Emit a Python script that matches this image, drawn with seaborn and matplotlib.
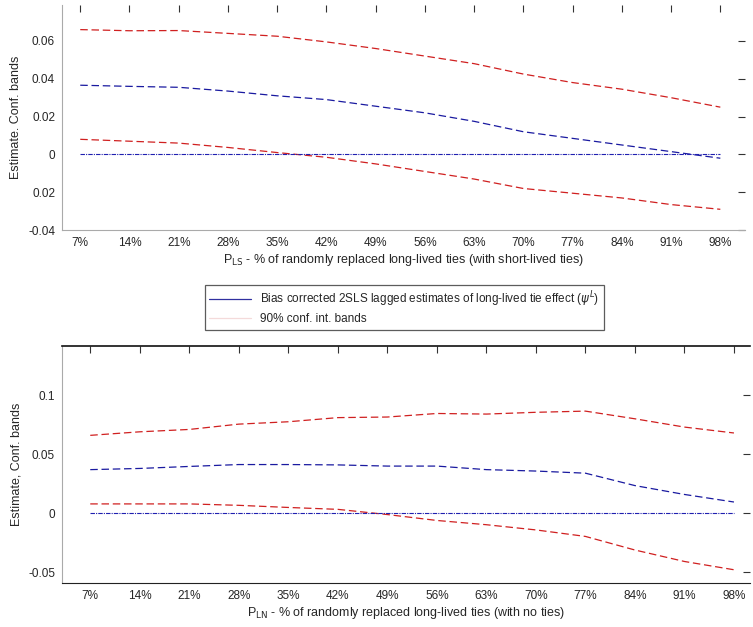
import numpy as np
import pandas as pd
from matplotlib import pyplot as plt
import seaborn as sns

pct = [7, 14, 21, 28, 35, 42, 49, 56, 63, 70, 77, 84, 91, 98]
pct_labels = [f"{p}%" for p in pct]

# top panel: long-lived replaced with short-lived ties
ls_est = [0.0366, 0.036, 0.0355, 0.0335, 0.031, 0.029, 0.0255, 0.022, 0.0175, 0.012, 0.0085, 0.005, 0.0015, -0.002]
ls_upper = [0.066, 0.0654, 0.0655, 0.064, 0.0625, 0.0595, 0.056, 0.052, 0.048, 0.0425, 0.038, 0.0345, 0.030, 0.025]
ls_lower = [0.008, 0.007, 0.006, 0.0037, 0.001, -0.0015, -0.005, -0.009, -0.013, -0.018, -0.0205, -0.023, -0.0265, -0.029]

# bottom panel: long-lived replaced with no ties
ln_est = [0.037, 0.038, 0.0397, 0.0413, 0.0413, 0.041, 0.040, 0.040, 0.037, 0.0358, 0.034, 0.0235, 0.016, 0.0096]
ln_upper = [0.066, 0.069, 0.071, 0.0755, 0.0775, 0.081, 0.0815, 0.0845, 0.084, 0.0855, 0.0865, 0.080, 0.073, 0.068]
ln_lower = [0.008, 0.008, 0.008, 0.0068, 0.005, 0.0034, -0.001, -0.006, -0.0096, -0.014, -0.0195, -0.031, -0.0407, -0.0477]

zero = [0.0] * len(pct)

sns.set_style("white")
plt.rcParams['font.family'] = ['Liberation Sans', 'DejaVu Sans']

fig = plt.figure(figsize=(7.53, 6.27), dpi=100)
ax_top = fig.add_axes([0.0823, 0.633, 0.907, 0.359])
ax_bot = fig.add_axes([0.0823, 0.070, 0.914, 0.378])


def draw(ax, est, upper, lower):
    df = pd.DataFrame({"pct": pct, "est": est, "upper": upper, "lower": lower, "zero": zero})
    sns.lineplot(data=df, x="pct", y="upper", ax=ax, color="#d02020", lw=0.9, linestyle=(0, (6, 3)))
    sns.lineplot(data=df, x="pct", y="lower", ax=ax, color="#d02020", lw=0.9, linestyle=(0, (6, 3)))
    sns.lineplot(data=df, x="pct", y="est", ax=ax, color="#1a1aa0", lw=0.9, linestyle=(0, (6, 3)))
    sns.lineplot(data=df, x="pct", y="zero", ax=ax, color="#2020b0", lw=0.8, linestyle=(0, (4, 1, 1, 1)))
    ax.set_xticks(pct)
    ax.set_xticklabels(pct_labels, fontsize=8.5)
    ax.tick_params(axis="both", direction="in", length=5, width=0.8, color="#333333",
                   top=True, right=True, labelsize=8.5, pad=5)


draw(ax_top, ls_est, ls_upper, ls_lower)
ax_top.set_xlim(4.4, 101.5)
ax_top.set_ylim(-0.04, 0.079)
ax_top.set_yticks([0.06, 0.04, 0.02, 0, -0.02, -0.04])
ax_top.set_yticklabels(["0.06", "0.04", "0.02", "0", "0.02", "-0.04"])
ax_top.set_ylabel("Estimate. Conf. bands", fontsize=9)
ax_top.set_xlabel(r"P$_{\mathrm{LS}}$ - % of randomly replaced long-lived ties (with short-lived ties)",
                  fontsize=9, labelpad=2)
for s in ["left", "bottom"]:
    ax_top.spines[s].set_color("#aaaaaa")
for s in ["top", "right"]:
    ax_top.spines[s].set_visible(False)

draw(ax_bot, ln_est, ln_upper, ln_lower)
ax_bot.set_xlim(3.0, 100.3)
ax_bot.set_ylim(-0.059, 0.1415)
ax_bot.set_yticks([0.1, 0.05, 0, -0.05])
ax_bot.set_yticklabels(["0.1", "0.05", "0", "-0.05"])
ax_bot.set_ylabel("Estimate, Conf. bands", fontsize=9)
ax_bot.set_xlabel(r"P$_{\mathrm{LN}}$ - % of randomly replaced long-lived ties (with no ties)",
                  fontsize=9, labelpad=2)
ax_bot.spines["top"].set_color("#111111")
ax_bot.spines["top"].set_linewidth(1.2)
ax_bot.spines["bottom"].set_color("#222222")
ax_bot.spines["left"].set_color("#aaaaaa")
ax_bot.spines["right"].set_visible(False)

handles = [plt.Line2D([], [], color="#3030a0", lw=0.9),
           plt.Line2D([], [], color="#f4dada", lw=0.9)]
labels = [r"Bias corrected 2SLS lagged estimates of long-lived tie effect ($\psi^L$)",
          "90% conf. int. bands"]
leg = fig.legend(handles, labels, loc="center", bbox_to_anchor=(0.537, 0.51), fontsize=8.5,
                 frameon=True, fancybox=False, edgecolor="#333333", handlelength=3.5,
                 borderpad=0.4, labelspacing=0.3)
leg.get_frame().set_linewidth(0.9)

fig.savefig("out.png", dpi=100)
